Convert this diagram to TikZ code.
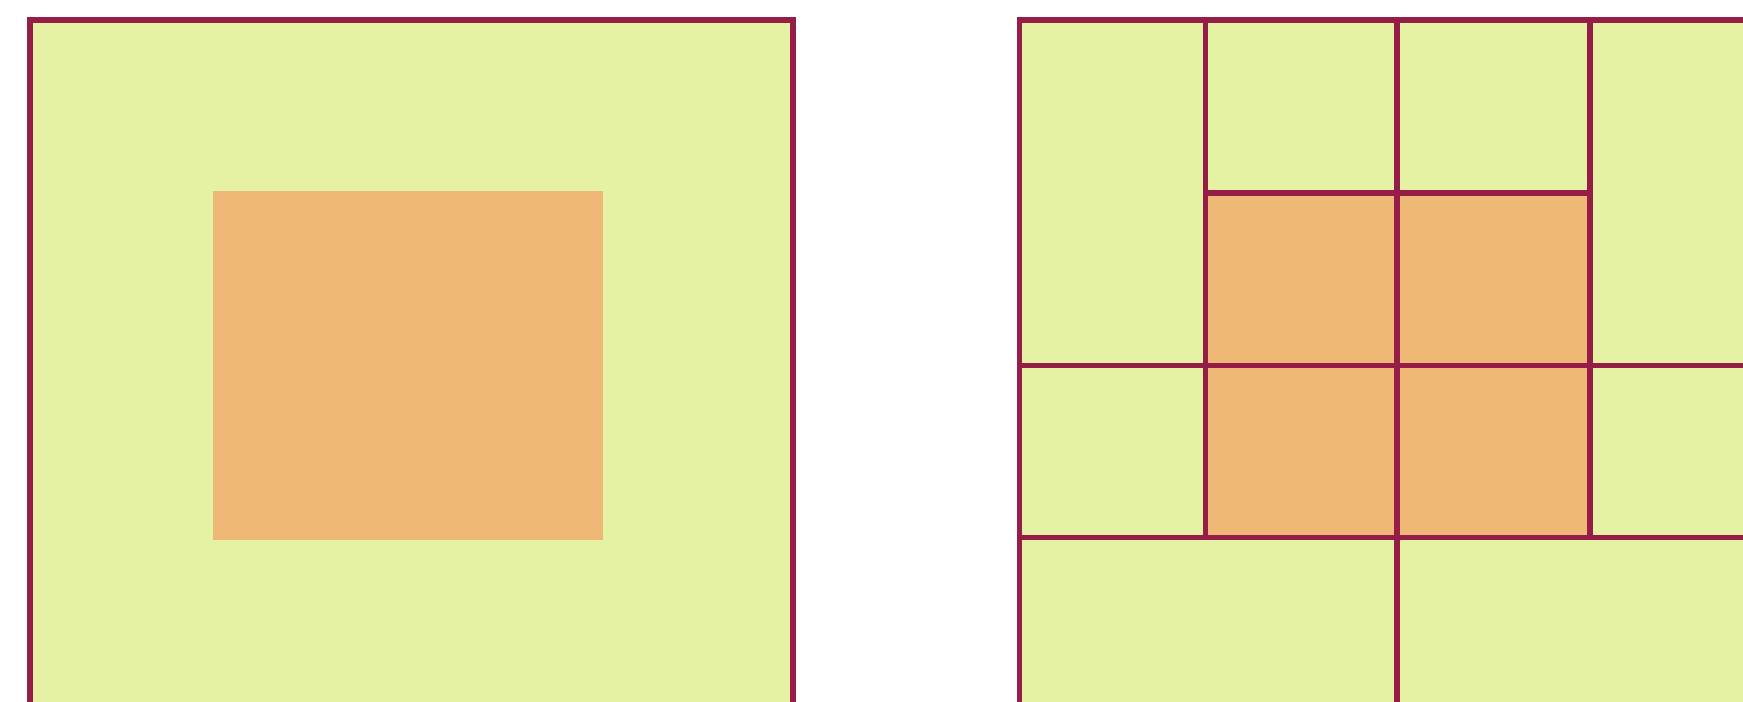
\documentclass[tikz,border=0pt]{standalone}
\usepackage{tikz}
\usetikzlibrary{positioning}

\definecolor{cellgreen}{RGB}{230,242,163}
\definecolor{cellorange}{RGB}{239,184,118}
\definecolor{gridline}{RGB}{150,29,72}

\begin{document}
\begin{tikzpicture}[
    x=0.5pt, y=-0.5pt,
    outer/.style={fill=cellgreen},
    inner/.style={fill=cellorange},
    edge/.style={draw=gridline, line width=2.85pt},
]
\useasboundingbox (0,0) rectangle (1743,701);
\clip (0,0) rectangle (1743,701);
% Left panel
\fill[outer] (30,20) rectangle (793,710);
\fill[inner] (213,191) rectangle (603,540);
\draw[edge] (30,20) rectangle (793,710);
% Right panel
\fill[outer] (1019.5,20) rectangle (1782,710);
\fill[inner] (1205.5,193) rectangle (1590,537.6);
\draw[edge] (1019.5,20) rectangle (1782,710);
\draw[edge] (1205.5,20) -- (1205.5,537.6);
\draw[edge] (1397.3,20) -- (1397.3,710);
\draw[edge] (1590,20) -- (1590,537.6);
\draw[edge] (1205.5,193) -- (1590,193);
\draw[edge] (1019.5,365.5) -- (1782,365.5);
\draw[edge] (1019.5,537.6) -- (1782,537.6);
\end{tikzpicture}
\end{document}
